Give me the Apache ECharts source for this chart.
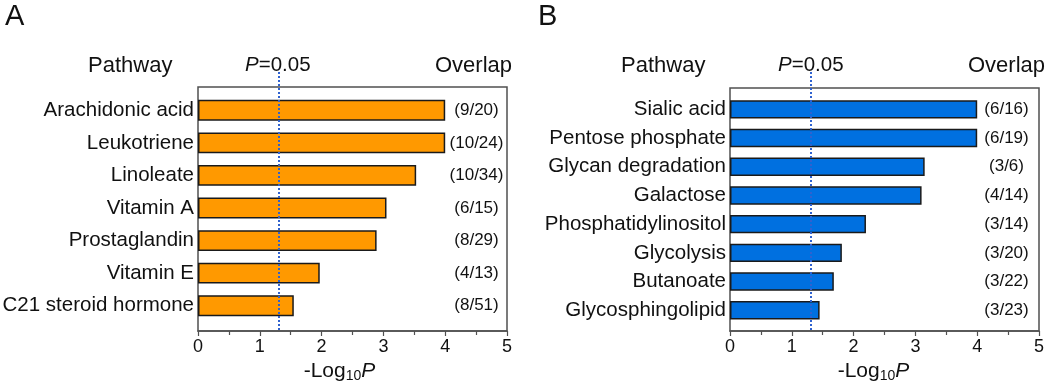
<!DOCTYPE html>
<html><head><meta charset="utf-8">
<script src="https://cdn.jsdelivr.net/npm/echarts@6/dist/echarts.min.js"></script>
<style>html,body{margin:0;padding:0;background:#fff}#c{width:1050px;height:383px}</style>
</head><body><div id="c"></div>
<script>
// ---- data ----
const categoriesA = ['Arachidonic acid','Leukotriene','Linoleate','Vitamin A','Prostaglandin','Vitamin E','C21 steroid hormone'];
const valuesA = [4.0, 4.0, 3.53, 3.05, 2.89, 1.97, 1.55];
const overlapA = ['(9/20)','(10/24)','(10/34)','(6/15)','(8/29)','(4/13)','(8/51)'];

const categoriesB = ['Sialic acid','Pentose phosphate','Glycan degradation','Galactose','Phosphatidylinositol','Glycolysis','Butanoate','Glycosphingolipid'];
const valuesB = [4.0, 4.0, 3.15, 3.10, 2.20, 1.81, 1.68, 1.45];
const overlapB = ['(6/16)','(6/19)','(3/6)','(4/14)','(3/14)','(3/20)','(3/22)','(3/23)'];

const xMin = 0, xMax = 5, xInterval = 1;
const pCutoff = -Math.log10(0.05);
const panelLetters = ['A','B'];
const headerPathway = 'Pathway';
const headerOverlap = 'Overlap';

// ---- layout / style ----
const FONT = '"Liberation Sans", Arial, sans-serif';
const FRAME = '#505050';
const panels = [
  {cats: categoriesA, vals: valuesA, ov: overlapA, color: '#FF9900',
   frame: {left: 198, top: 87, width: 309, height: 244},
   bars: {left: 198, top: 94, width: 309, height: 228},
   ovMargin: 30.5, nameShift: 26,
   letterX: 5, pathX: 88, pX: 245, ovX: 435},
  {cats: categoriesB, vals: valuesB, ov: overlapB, color: '#0070E0',
   frame: {left: 730, top: 88, width: 309, height: 243},
   bars: {left: 730, top: 95, width: 309, height: 229.6},
   ovMargin: 32.5, nameShift: 22,
   letterX: 538, pathX: 621, pX: 778, ovX: 968}
];

const grid = [], xAxis = [], yAxis = [], series = [], graphic = [];
panels.forEach((p, i) => {
  const gF = grid.length;
  grid.push(Object.assign({show: true, borderColor: FRAME, borderWidth: 1.5, backgroundColor: 'transparent', outerBoundsMode: 'none', containLabel: false}, p.frame));
  const gB = grid.length;
  grid.push(Object.assign({outerBoundsMode: 'none', containLabel: false}, p.bars));

  xAxis.push({gridIndex: gF, type: 'value', min: xMin, max: xMax, interval: xInterval,
    axisLine: {show: true, lineStyle: {color: FRAME, width: 1.5}},
    axisTick: {show: true, length: 5, lineStyle: {color: FRAME, width: 1.2}},
    minorTick: {show: true, splitNumber: 2, length: 4, lineStyle: {color: FRAME, width: 1.2}},
    splitLine: {show: false},
    axisLabel: {fontFamily: FONT, fontSize: 18, color: '#111', margin: 7},
    name: '{n|-Log}{s|10}{p|P}', nameLocation: 'middle', nameGap: 21,
    nameTextStyle: {padding: [0, p.nameShift, 0, 0], rich: {
      n: {fontFamily: FONT, fontSize: 21, color: '#111', lineHeight: 24},
      s: {fontFamily: FONT, fontSize: 14, color: '#111', lineHeight: 24, verticalAlign: 'bottom', padding: [8, 0, 0, 0]},
      p: {fontFamily: FONT, fontSize: 21, fontStyle: 'italic', color: '#111', lineHeight: 24}
    }}
  });
  const xB = xAxis.length;
  xAxis.push({gridIndex: gB, type: 'value', min: xMin, max: xMax, interval: xInterval, show: false});

  yAxis.push({gridIndex: gF, type: 'value', show: false});
  const yB = yAxis.length;
  yAxis.push({gridIndex: gB, type: 'category', inverse: true, data: p.cats,
    axisLine: {show: false}, axisTick: {show: false}, splitLine: {show: false},
    axisLabel: {fontFamily: FONT, fontSize: 20.5, color: '#111', margin: 4}});
  yAxis.push({gridIndex: gB, type: 'category', inverse: true, position: 'right', data: p.ov,
    axisLine: {show: false}, axisTick: {show: false}, splitLine: {show: false},
    axisLabel: {inside: true, align: 'center', margin: p.ovMargin, fontFamily: FONT, fontSize: 17, color: '#111'}});

  series.push({type: 'bar', xAxisIndex: xB, yAxisIndex: yB, data: p.vals, barWidth: '64%',
    itemStyle: {color: p.color, borderColor: '#1a1a1a', borderWidth: 1.5},
    markLine: {silent: true, symbol: 'none', label: {show: false},
      lineStyle: {type: 'dotted', color: '#2f62d0', width: 2},
      data: [[{xAxis: pCutoff, y: 72}, {xAxis: pCutoff, y: 331}]]}
  });

  graphic.push({type: 'text', left: p.letterX, top: 2, style: {text: panelLetters[i], font: '29px ' + FONT, fill: '#111'}});
  graphic.push({type: 'text', left: p.pathX, top: 55, style: {text: headerPathway, font: '22px ' + FONT, fill: '#111'}});
  graphic.push({type: 'text', left: p.ovX, top: 55, style: {text: headerOverlap, font: '22px ' + FONT, fill: '#111'}});
  graphic.push({type: 'text', left: p.pX, top: 55, style: {text: '{i|P}{r|=0.05}', rich: {
    i: {fontFamily: FONT, fontSize: 20.5, fontStyle: 'italic', fill: '#111'},
    r: {fontFamily: FONT, fontSize: 20.5, fill: '#111'}}}});
});

const chart = echarts.init(document.getElementById('c'), null, {renderer: 'canvas'});
chart.setOption({animation: false, backgroundColor: '#fff', grid, xAxis, yAxis, series, graphic});
</script></body></html>
